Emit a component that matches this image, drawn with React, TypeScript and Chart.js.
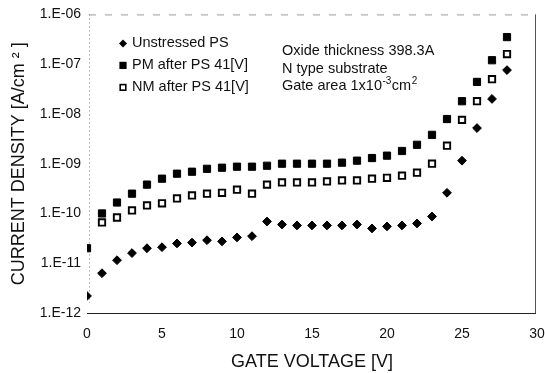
import React, { useEffect, useRef } from 'react';
import { Chart, registerables } from 'chart.js';

Chart.register(...registerables);

// ---- data ----
const gateVoltage = [0, 1, 2, 3, 4, 5, 6, 7, 8, 9, 10, 11, 12, 13, 14, 15, 16, 17, 18, 19, 20, 21, 22, 23, 24, 25, 26, 27, 28];
const unstressedPS = [2.2e-12, 6.3e-12, 1.15e-11, 1.6e-11, 2.0e-11, 2.1e-11, 2.5e-11, 2.6e-11, 2.9e-11, 2.75e-11, 3.3e-11, 3.5e-11, 6.9e-11, 6.0e-11, 5.75e-11, 5.75e-11, 5.75e-11, 5.75e-11, 6.0e-11, 5.0e-11, 5.5e-11, 5.75e-11, 6.3e-11, 8.7e-11, 2.6e-10, 1.15e-9, 5.2e-9, 2.0e-8, 7.6e-8];
const pmAfterPS = [2.0e-11, 1.0e-10, 1.66e-10, 2.5e-10, 3.8e-10, 5.0e-10, 6.3e-10, 6.9e-10, 7.9e-10, 8.3e-10, 8.7e-10, 8.7e-10, 9.1e-10, 1.0e-9, 1.0e-9, 1.0e-9, 1.0e-9, 1.05e-9, 1.15e-9, 1.3e-9, 1.45e-9, 1.8e-9, 2.4e-9, 3.8e-9, 7.9e-9, 1.8e-8, 4.4e-8, 1.2e-7, 3.5e-7];
const nmAfterPS = [null, 6.6e-11, 8.3e-11, 1.15e-10, 1.45e-10, 1.6e-10, 2.0e-10, 2.3e-10, 2.5e-10, 2.6e-10, 3.0e-10, 2.5e-10, 3.8e-10, 4.2e-10, 4.2e-10, 4.2e-10, 4.4e-10, 4.6e-10, 4.6e-10, 5.0e-10, 5.2e-10, 5.75e-10, 6.6e-10, 1.0e-9, 2.3e-9, 7.6e-9, 1.8e-8, 5.0e-8, 1.6e-7];

const seriesLabels = ['Unstressed PS', 'PM after PS 41[V]', 'NM after PS 41[V]'];
const xTickValues = [0, 5, 10, 15, 20, 25, 30];
const yTickValues = [1e-12, 1e-11, 1e-10, 1e-9, 1e-8, 1e-7, 1e-6];
const yTickLabels = ['1.E-12', '1.E-11', '1.E-10', '1.E-09', '1.E-08', '1.E-07', '1.E-06'];
const noteLines = ['Oxide thickness 398.3A', 'N type substrate'];
const xTitle = 'GATE VOLTAGE [V]';
const yTitle = 'CURRENT DENSITY [A/cm \u00B2 ]';

const FONT = '"Liberation Sans", Arial, Helvetica, sans-serif';

function toPoints(values: (number | null)[]) {
  const pts: { x: number; y: number }[] = [];
  values.forEach((v, i) => {
    if (v !== null) pts.push({ x: gateVoltage[i], y: v });
  });
  return pts;
}

function drawMarker(ctx: CanvasRenderingContext2D, kind: number, x: number, y: number, s: number) {
  ctx.save();
  ctx.fillStyle = '#000';
  ctx.strokeStyle = '#000';
  if (kind === 0) {
    ctx.beginPath();
    ctx.moveTo(x, y - s);
    ctx.lineTo(x + s, y);
    ctx.lineTo(x, y + s);
    ctx.lineTo(x - s, y);
    ctx.closePath();
    ctx.fill();
  } else if (kind === 1) {
    ctx.fillRect(x - s, y - s, 2 * s, 2 * s);
  } else {
    ctx.lineWidth = 1.6;
    ctx.fillStyle = '#fff';
    ctx.fillRect(x - s + 0.8, y - s + 0.8, 2 * s - 1.6, 2 * s - 1.6);
    ctx.strokeRect(x - s + 0.8, y - s + 0.8, 2 * s - 1.6, 2 * s - 1.6);
  }
  ctx.restore();
}

const framePlugin = {
  id: 'frame',
  beforeDatasetsDraw(chart: any) {
    const { ctx, chartArea } = chart;
    const { left, right, top, bottom } = chartArea;
    ctx.save();
    // top dashed
    ctx.strokeStyle = '#9a9a9a';
    ctx.lineWidth = 1;
    ctx.setLineDash([7, 9]);
    ctx.beginPath();
    ctx.moveTo(left + 2, top + 0.5);
    ctx.lineTo(right, top + 0.5);
    ctx.stroke();
    // left dotted
    ctx.setLineDash([1, 3]);
    ctx.strokeStyle = '#777';
    ctx.beginPath();
    ctx.moveTo(left + 2.5, top);
    ctx.lineTo(left + 2.5, bottom - 10);
    ctx.stroke();
    // right solid
    ctx.setLineDash([]);
    ctx.strokeStyle = '#555';
    ctx.beginPath();
    ctx.moveTo(right - 1.5, top);
    ctx.lineTo(right - 1.5, bottom);
    ctx.stroke();
    // bottom solid
    ctx.strokeStyle = '#222';
    ctx.beginPath();
    ctx.moveTo(left, bottom + 0.5);
    ctx.lineTo(right - 1, bottom + 0.5);
    ctx.stroke();
    ctx.restore();
  },
};

const notesPlugin = {
  id: 'notes',
  afterDatasetsDraw(chart: any) {
    const { ctx, chartArea } = chart;
    const { left, top } = chartArea;
    ctx.save();
    ctx.fillStyle = '#111';
    ctx.textBaseline = 'middle';
    ctx.textAlign = 'left';
    // legend
    const lx = left + 36;
    const ly = top + 29;
    const ls = 22;
    ctx.font = `14.5px ${FONT}`;
    seriesLabels.forEach((lab, i) => {
      const y = ly + i * ls;
      drawMarker(ctx, i, lx, y, i === 0 ? 4 : 3.6);
      ctx.fillStyle = '#111';
      ctx.fillText(lab, lx + 9, y);
    });
    // annotation
    const ax = left + 195;
    const ay = top + 37;
    const as = 17.5;
    noteLines.forEach((t, i) => {
      ctx.fillText(t, ax, ay + i * as);
    });
    const y3 = ay + 2 * as;
    let x = ax;
    const base = 'Gate area 1x10';
    ctx.fillText(base, x, y3);
    x += ctx.measureText(base).width;
    ctx.font = `10px ${FONT}`;
    ctx.fillText('-3', x + 0.5, y3 - 5);
    x += ctx.measureText('-3').width + 1;
    ctx.font = `14.5px ${FONT}`;
    ctx.fillText('cm', x, y3);
    x += ctx.measureText('cm').width;
    ctx.font = `10px ${FONT}`;
    ctx.fillText('2', x + 0.5, y3 - 5);
    ctx.restore();
  },
};

export default function App() {
  const canvasRef = useRef<HTMLCanvasElement | null>(null);

  useEffect(() => {
    if (!canvasRef.current) return;
    const chart = new Chart(canvasRef.current, {
      type: 'scatter',
      data: {
        datasets: [
          {
            label: seriesLabels[0],
            data: toPoints(unstressedPS),
            pointStyle: 'rectRot',
            pointRadius: 4.4,
            pointBackgroundColor: '#000',
            pointBorderColor: '#000',
            pointBorderWidth: 1,
            showLine: false,
          },
          {
            label: seriesLabels[2],
            data: toPoints(nmAfterPS),
            pointStyle: 'rect',
            pointRadius: 4.5,
            pointBackgroundColor: '#fff',
            pointBorderColor: '#000',
            pointBorderWidth: 1.9,
            showLine: false,
          },
          {
            label: seriesLabels[1],
            data: toPoints(pmAfterPS),
            pointStyle: 'rect',
            pointRadius: 5.1,
            pointBackgroundColor: '#000',
            pointBorderColor: '#000',
            pointBorderWidth: 1,
            showLine: false,
          },
        ],
      },
      options: {
        animation: false,
        responsive: false,
        maintainAspectRatio: false,
        layout: { padding: { top: 13, right: 8, bottom: 0, left: 0 } },
        plugins: {
          legend: { display: false },
          tooltip: { enabled: false },
        },
        scales: {
          x: {
            type: 'linear',
            min: 0,
            max: 30,
            grid: { display: false, drawTicks: true, tickLength: 13 },
            border: { display: false },
            afterBuildTicks: (scale: any) => {
              scale.ticks = xTickValues.map((v) => ({ value: v }));
            },
            afterFit: (scale: any) => {
              scale.height = 60;
            },
            ticks: {
              padding: 0,
              color: '#111',
              font: { family: FONT, size: 14 },
              maxRotation: 0,
              autoSkip: false,
            },
            title: {
              display: true,
              text: xTitle,
              color: '#111',
              font: { family: FONT, size: 18 },
              padding: { top: 0, bottom: 0 },
            },
          },
          y: {
            type: 'logarithmic',
            min: 1e-12,
            max: 1e-6,
            grid: { display: false, drawTicks: false },
            border: { display: false },
            afterBuildTicks: (scale: any) => {
              scale.ticks = yTickValues.map((v) => ({ value: v }));
            },
            afterFit: (scale: any) => {
              scale.width = 87;
            },
            ticks: {
              padding: 6,
              color: '#111',
              font: { family: FONT, size: 14 },
              autoSkip: false,
              callback: (value: any) => {
                const idx = yTickValues.findIndex((v) => Math.abs(Math.log10(v) - Math.log10(Number(value))) < 1e-6);
                return idx >= 0 ? yTickLabels[idx] : '';
              },
            },
            title: {
              display: true,
              text: yTitle,
              color: '#111',
              font: { family: FONT, size: 18 },
              padding: { top: 8, bottom: 0 },
            },
          },
        },
      },
      plugins: [framePlugin, notesPlugin],
    });
    return () => chart.destroy();
  }, []);

  return (
    <div style={{ position: 'fixed', left: 0, top: 0, width: 545, height: 373, background: '#fff' }}>
      <canvas ref={canvasRef} width={545} height={373} style={{ display: 'block', width: 545, height: 373 }} />
    </div>
  );
}
